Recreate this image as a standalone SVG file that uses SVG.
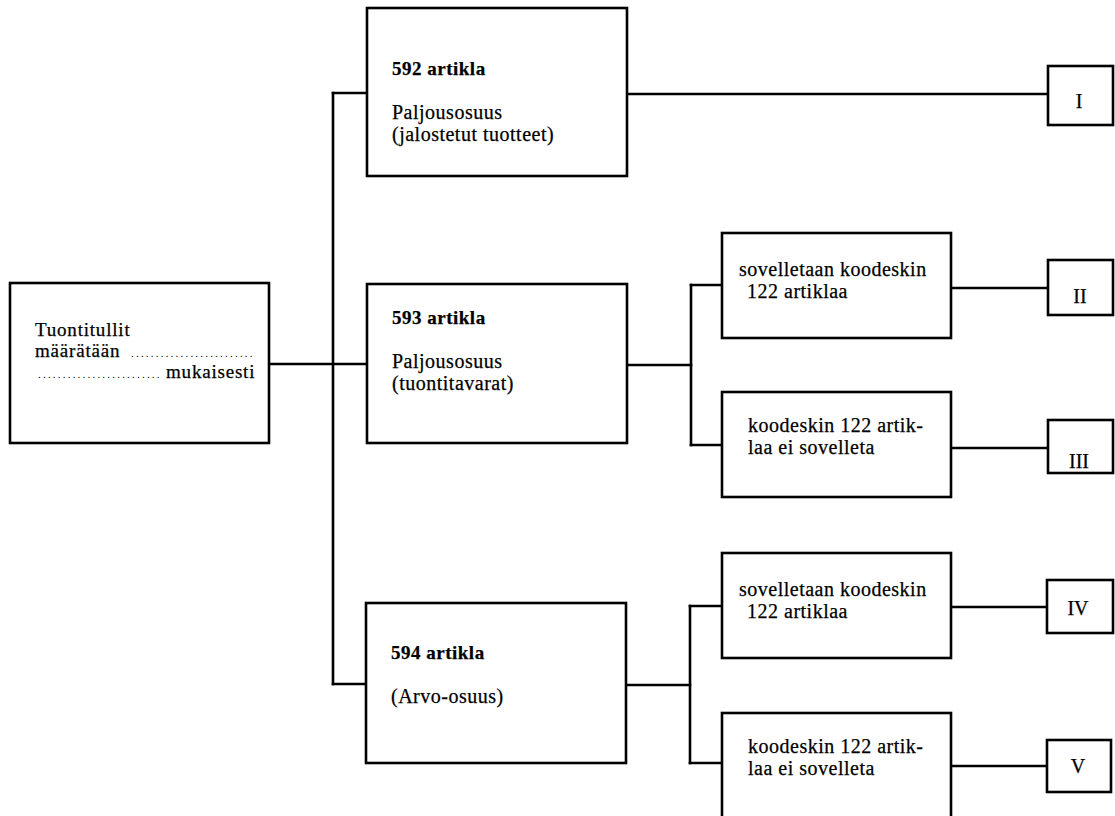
<svg xmlns="http://www.w3.org/2000/svg" width="1115" height="816" viewBox="0 0 1115 816">
<style>
.box{fill:#fff;stroke:#000;stroke-width:2.6}
.ln{fill:none;stroke:#000;stroke-width:2.6;stroke-linecap:square}
text{font-family:"Liberation Serif","Times New Roman",serif;font-size:20px;fill:#000;stroke:#000;stroke-width:0.25;letter-spacing:0.5px}
.b{font-weight:bold;font-size:19px}
.s{font-size:19px;letter-spacing:0.8px}
.dots{font-size:11px;letter-spacing:2.2px;stroke-width:0}
.c{text-anchor:middle;letter-spacing:0}
</style>
<rect width="1115" height="816" fill="#fff"/>
<g id="connectors">
<path class="ln" d="M269,364 H367"/>
<path class="ln" d="M333,93 V684"/>
<path class="ln" d="M333,93 H367"/>
<path class="ln" d="M333,684 H367"/>
<path class="ln" d="M627,94 H1048"/>
<path class="ln" d="M627,365 H691"/>
<path class="ln" d="M691,285 V445"/>
<path class="ln" d="M691,285 H722"/>
<path class="ln" d="M691,445 H722"/>
<path class="ln" d="M951,288 H1048"/>
<path class="ln" d="M951,448 H1048"/>
<path class="ln" d="M627,685 H690"/>
<path class="ln" d="M690,606 V763"/>
<path class="ln" d="M690,606 H722"/>
<path class="ln" d="M690,763 H722"/>
<path class="ln" d="M951,607 H1047"/>
<path class="ln" d="M951,766 H1047"/>
</g>
<g id="start">
<rect class="box" x="10" y="283" width="259" height="160"/>
<text class="s" x="35" y="336">Tuontitullit</text>
<text class="s" x="35" y="357">määrätään<tspan class="dots" x="131">.........................</tspan></text>
<text class="s" y="378"><tspan class="dots" x="38">.........................</tspan><tspan x="166">mukaisesti</tspan></text>
</g>
<g id="a592">
<rect class="box" x="367" y="8" width="260" height="168"/>
<text class="b" x="392" y="75">592 artikla</text>
<text x="392" y="119">Paljousosuus</text>
<text x="392" y="141">(jalostetut tuotteet)</text>
</g>
<g id="a593">
<rect class="box" x="367" y="284" width="260" height="159"/>
<text class="b" x="392" y="324">593 artikla</text>
<text x="392" y="368">Paljousosuus</text>
<text x="392" y="390">(tuontitavarat)</text>
</g>
<g id="a594">
<rect class="box" x="366" y="603" width="260" height="160"/>
<text class="b" x="391" y="659">594 artikla</text>
<text x="391" y="703">(Arvo-osuus)</text>
</g>
<g id="s1">
<rect class="box" x="722" y="233" width="229" height="105"/>
<text x="739" y="276">sovelletaan koodeskin</text>
<text x="747" y="298">122 artiklaa</text>
</g>
<g id="k1">
<rect class="box" x="722" y="392" width="229" height="105"/>
<text x="748" y="432">koodeskin 122 artik-</text>
<text x="748" y="454">laa ei sovelleta</text>
</g>
<g id="s2">
<rect class="box" x="722" y="553" width="229" height="105"/>
<text x="739" y="596">sovelletaan koodeskin</text>
<text x="747" y="618">122 artiklaa</text>
</g>
<g id="k2">
<rect class="box" x="722" y="713" width="229" height="110"/>
<text x="748" y="753">koodeskin 122 artik-</text>
<text x="748" y="775">laa ei sovelleta</text>
</g>
<g id="r1">
<rect class="box" x="1048" y="66" width="65" height="59"/>
<text class="c" x="1079" y="108">I</text>
</g>
<g id="r2">
<rect class="box" x="1048" y="260" width="65" height="55"/>
<text class="c" x="1080" y="303">II</text>
</g>
<g id="r3">
<rect class="box" x="1048" y="420" width="65" height="53"/>
<text class="c" x="1079" y="468">III</text>
</g>
<g id="r4">
<rect class="box" x="1047" y="580" width="66" height="53"/>
<text class="c" x="1078" y="615">IV</text>
</g>
<g id="r5">
<rect class="box" x="1047" y="740" width="64" height="52"/>
<text class="c" x="1078" y="773">V</text>
</g>
</svg>
